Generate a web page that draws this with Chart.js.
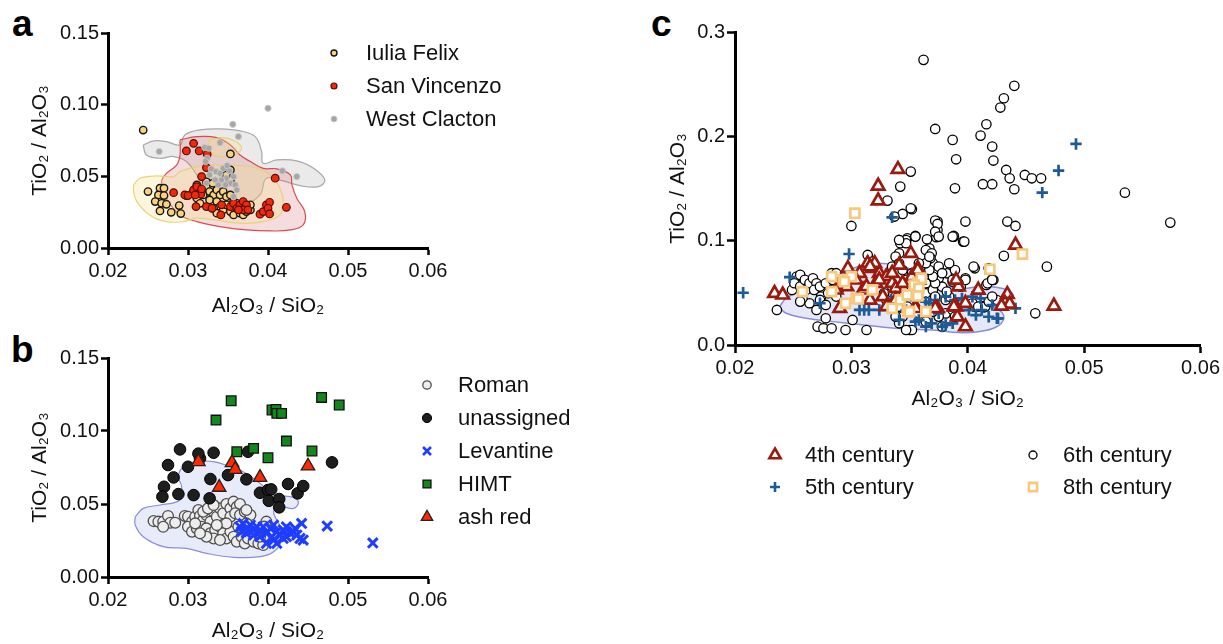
<!DOCTYPE html>
<html><head><meta charset="utf-8">
<script src="https://cdn.jsdelivr.net/npm/chart.js@4.4.1/dist/chart.umd.min.js"></script>
<style>
html,body{margin:0;padding:0;background:#fff;width:1223px;height:644px;overflow:hidden;}
canvas{position:absolute;}
.lab{position:absolute;font-family:'Liberation Sans',Arial,sans-serif;font-weight:bold;font-size:37px;line-height:37px;color:#000;}
</style></head><body>
<div class="lab" style="left:12px;top:5px">a</div>
<div class="lab" style="left:11px;top:331px">b</div>
<div class="lab" style="left:651px;top:5px">c</div>
<canvas id="ca" width="620" height="330" style="left:0;top:0"></canvas>
<canvas id="cb" width="620" height="314" style="left:0;top:330px"></canvas>
<canvas id="cc" width="603" height="644" style="left:620px;top:0"></canvas>
<script>
// ---------------- DATA ----------------
const xTicks = [0.02, 0.03, 0.04, 0.05, 0.06];
const yTicksAB = [0.00, 0.05, 0.10, 0.15];
const yTicksC = [0.0, 0.1, 0.2, 0.3];
const xTitle = 'Al₂O₃ / SiO₂';
const yTitle = 'TiO₂ / Al₂O₃';

// panel a
const namesA = ['Iulia Felix', 'San Vincenzo', 'West Clacton'];
const iuliaFelix = [[0.0244,0.0823],[0.0353,0.0656],
 [0.0250,0.0394],[0.0265,0.0417],[0.0270,0.0417],[0.0263,0.0370],[0.0270,0.0366],[0.0259,0.0324],[0.0267,0.0312],[0.0273,0.0305],[0.0265,0.0259],[0.0279,0.0249],[0.0289,0.0296],[0.0291,0.0240],
 [0.0311,0.0440],[0.0315,0.0405],[0.0319,0.0370],[0.0323,0.0420],[0.0327,0.0394],[0.0332,0.0370],[0.0336,0.0405],[0.0340,0.0370],[0.0344,0.0394],[0.0348,0.0358],[0.0353,0.0370],[0.0311,0.0347],[0.0315,0.0312],[0.0327,0.0335],[0.0336,0.0324],[0.0340,0.0289],[0.0344,0.0266],[0.0353,0.0254],[0.0357,0.0231],[0.0365,0.0243],[0.0369,0.0231],[0.0378,0.0266],[0.0378,0.0301],[0.0332,0.0277],[0.0336,0.0243],[0.0348,0.0301],[0.0361,0.0277],[0.0353,0.0475],[0.0348,0.0510],[0.0353,0.0545],[0.0323,0.0463],[0.0357,0.0324],[0.0369,0.0289],[0.0373,0.0254],[0.0361,0.0312],[0.0331,0.0452],[0.0305,0.0380],[0.0298,0.0365]];
const sanVincenzo = [[0.0307,0.0730],[0.0298,0.0677],[0.0314,0.0677],[0.0324,0.0654],[0.0323,0.0561],[0.0317,0.0498],[0.0282,0.0386],[0.0296,0.0370],[0.0300,0.0366],[0.0316,0.0375],[0.0310,0.0289],[0.0323,0.0289],[0.0330,0.0277],[0.0341,0.0231],[0.0342,0.0301],[0.0353,0.0289],[0.0357,0.0312],[0.0361,0.0277],[0.0365,0.0301],[0.0369,0.0324],[0.0373,0.0301],[0.0369,0.0266],[0.0375,0.0266],[0.0363,0.0266],[0.0390,0.0236],[0.0394,0.0254],[0.0398,0.0301],[0.0402,0.0319],[0.0400,0.0277],[0.0402,0.0238],[0.0423,0.0284],[0.0409,0.0487],[0.0307,0.0405],[0.0311,0.0428],[0.0317,0.0412],[0.0309,0.0370]];
const westClacton = [[0.0400,0.0975],[0.0356,0.0863],[0.0363,0.0777],[0.0340,0.0735],[0.0264,0.0673],[0.0321,0.0701],[0.0326,0.0696],[0.0324,0.0626],[0.0322,0.0603],[0.0329,0.0552],[0.0327,0.0510],[0.0335,0.0533],[0.0340,0.0521],[0.0344,0.0556],[0.0349,0.0575],[0.0352,0.0538],[0.0348,0.0487],[0.0342,0.0475],[0.0353,0.0452],[0.0357,0.0498],[0.0334,0.0475],[0.0323,0.0452],[0.0338,0.0440],[0.0359,0.0440],[0.0361,0.0405],[0.0357,0.0358],[0.0347,0.0440],[0.0418,0.0538],[0.0436,0.0498]];
const contourAGrey = [[0.0244,0.0719],[0.0257,0.0747],[0.0273,0.0742],[0.0290,0.0719],[0.0296,0.0789],[0.0315,0.0824],[0.0340,0.0831],[0.0365,0.0817],[0.0384,0.0777],[0.0392,0.0673],[0.0394,0.0591],[0.0411,0.0615],[0.0436,0.0608],[0.0457,0.0556],[0.0471,0.0475],[0.0463,0.0428],[0.0440,0.0435],[0.0419,0.0468],[0.0398,0.0487],[0.0390,0.0370],[0.0369,0.0301],[0.0344,0.0324],[0.0323,0.0394],[0.0311,0.0510],[0.0298,0.0603],[0.0282,0.0638],[0.0265,0.0626],[0.0248,0.0649]];
const contourARed = [[0.0290,0.0754],[0.0311,0.0777],[0.0336,0.0770],[0.0353,0.0719],[0.0365,0.0649],[0.0378,0.0603],[0.0394,0.0556],[0.0411,0.0552],[0.0428,0.0510],[0.0430,0.0440],[0.0436,0.0347],[0.0446,0.0254],[0.0444,0.0161],[0.0428,0.0126],[0.0403,0.0119],[0.0373,0.0126],[0.0340,0.0149],[0.0311,0.0184],[0.0290,0.0231],[0.0273,0.0347],[0.0267,0.0463],[0.0273,0.0521],[0.0286,0.0580],[0.0290,0.0649]];
const contourAYellow = [[0.0232,0.0440],[0.0240,0.0487],[0.0261,0.0503],[0.0282,0.0498],[0.0290,0.0533],[0.0311,0.0568],[0.0336,0.0580],[0.0365,0.0575],[0.0386,0.0556],[0.0403,0.0510],[0.0415,0.0417],[0.0419,0.0324],[0.0415,0.0231],[0.0394,0.0184],[0.0365,0.0173],[0.0332,0.0196],[0.0311,0.0208],[0.0294,0.0184],[0.0273,0.0184],[0.0252,0.0231],[0.0236,0.0324],[0.0232,0.0394]];
const contourAYellowTop = [[0.0327,0.0754],[0.0344,0.0770],[0.0360,0.0742],[0.0367,0.0696],[0.0357,0.0649],[0.0340,0.0638],[0.0327,0.0673],[0.0325,0.0719]];

// panel b
const namesB = ['Roman', 'unassigned', 'Levantine', 'HIMT', 'ash red'];
const roman = [[0.0257,0.0383],[0.0263,0.0379],[0.0269,0.0379],[0.0275,0.0418],[0.0278,0.0372],[0.0284,0.0372],[0.0269,0.0344],
 [0.0296,0.0418],[0.0300,0.0413],[0.0305,0.0379],[0.0309,0.0413],[0.0313,0.0459],[0.0315,0.0418],[0.0319,0.0390],[0.0323,0.0424],[0.0328,0.0379],[0.0332,0.0447],[0.0336,0.0413],[0.0340,0.0470],[0.0344,0.0436],[0.0348,0.0500],[0.0353,0.0470],[0.0357,0.0516],[0.0361,0.0481],[0.0365,0.0500],[0.0353,0.0413],[0.0359,0.0436],[0.0365,0.0424],[0.0371,0.0447],[0.0378,0.0424],
 [0.0300,0.0344],[0.0305,0.0310],[0.0311,0.0333],[0.0317,0.0344],[0.0323,0.0333],[0.0328,0.0299],[0.0334,0.0322],[0.0340,0.0344],[0.0344,0.0299],[0.0348,0.0264],[0.0353,0.0310],[0.0357,0.0276],[0.0361,0.0242],[0.0367,0.0276],[0.0371,0.0230],[0.0375,0.0264],[0.0382,0.0242],[0.0388,0.0230],[0.0394,0.0219],[0.0390,0.0276],[0.0380,0.0310],[0.0332,0.0264],[0.0340,0.0253],[0.0323,0.0276],[0.0315,0.0299],[0.0309,0.0367],[0.0363,0.0344],[0.0369,0.0322],[0.0373,0.0367],[0.0348,0.0367],[0.0336,0.0356],[0.0319,0.0447],[0.0325,0.0470],[0.0332,0.0493],[0.0373,0.0459],[0.0398,0.0379],[0.0395,0.0345]];
const unassigned = [[0.0290,0.0874],[0.0275,0.0767],[0.0332,0.0851],[0.0315,0.0812],[0.0300,0.0755],[0.0282,0.0682],[0.0270,0.0618],[0.0268,0.0550],[0.0288,0.0568],[0.0307,0.0561],[0.0328,0.0671],[0.0327,0.0539],[0.0350,0.0698],[0.0373,0.0669],[0.0375,0.0858],[0.0390,0.0577],[0.0400,0.0596],[0.0404,0.0600],[0.0401,0.0522],[0.0414,0.0534],[0.0414,0.0477],[0.0425,0.0637],[0.0437,0.0573],[0.0444,0.0623],[0.0480,0.0785],[0.0313,0.0845]];
const levantine = [[0.0365,0.0344],[0.0369,0.0367],[0.0373,0.0333],[0.0378,0.0356],[0.0382,0.0322],[0.0386,0.0344],[0.0390,0.0310],[0.0394,0.0344],[0.0398,0.0299],[0.0403,0.0333],[0.0407,0.0356],[0.0411,0.0310],[0.0415,0.0287],[0.0419,0.0322],[0.0423,0.0276],[0.0428,0.0299],[0.0432,0.0310],[0.0436,0.0287],[0.0440,0.0264],[0.0444,0.0253],[0.0442,0.0367],[0.0407,0.0253],[0.0398,0.0230],[0.0411,0.0230],[0.0390,0.0276],[0.0382,0.0287],[0.0373,0.0299],[0.0367,0.0310],[0.0423,0.0344],[0.0434,0.0333],[0.0419,0.0264],[0.0405,0.0276],[0.0474,0.0349],[0.0531,0.0233]];
const himt = [[0.0354,0.1207],[0.0335,0.1075],[0.0405,0.1144],[0.0410,0.1148],[0.0411,0.1121],[0.0417,0.1121],[0.0467,0.1230],[0.0489,0.1178],[0.0423,0.0931],[0.0455,0.0863],[0.0361,0.0858],[0.0382,0.0881],[0.0400,0.0817]];
const ashRed = [[0.0313,0.0790],[0.0355,0.0783],[0.0359,0.0737],[0.0339,0.0614],[0.0390,0.0682],[0.0450,0.0760]];
const contourB = [[0.0234,0.0413],[0.0244,0.0470],[0.0265,0.0493],[0.0290,0.0527],[0.0292,0.0619],[0.0288,0.0687],[0.0294,0.0755],[0.0311,0.0790],[0.0332,0.0790],[0.0353,0.0755],[0.0369,0.0721],[0.0390,0.0642],[0.0407,0.0562],[0.0428,0.0550],[0.0438,0.0516],[0.0432,0.0470],[0.0415,0.0482],[0.0407,0.0447],[0.0415,0.0345],[0.0417,0.0253],[0.0407,0.0173],[0.0390,0.0139],[0.0357,0.0135],[0.0323,0.0162],[0.0298,0.0196],[0.0269,0.0208],[0.0244,0.0276],[0.0234,0.0356]];

// panel c
const namesC = ['4th century', '5th century', '6th century', '8th century'];
const c4th = [[0.0340,0.1684],[0.0323,0.1524],[0.0323,0.1383],[0.0351,0.0879],[0.0441,0.0959],[0.0474,0.0374],[0.0434,0.0486],[0.0432,0.0400],[0.0436,0.0393],[0.0409,0.0527],[0.0398,0.0176],[0.0391,0.0271],[0.0390,0.0367],[0.0392,0.0559],[0.0390,0.0623],[0.0398,0.0400],[0.0374,0.0352],
 [0.0234,0.0496],[0.0241,0.0480],[0.0287,0.0528],[0.0290,0.0352],[0.0297,0.0735],[0.0307,0.0688],[0.0310,0.0528],[0.0314,0.0783],[0.0318,0.0735],[0.0320,0.0783],[0.0324,0.0688],[0.0330,0.0656],[0.0335,0.0592],[0.0338,0.0544],[0.0341,0.0767],[0.0357,0.0735],[0.0352,0.0656],[0.0358,0.0624],[0.0327,0.0464],[0.0316,0.0432],[0.0330,0.0368],[0.0355,0.0368],[0.0296,0.0560],[0.0304,0.0624],[0.0313,0.0560],[0.0321,0.0592],[0.0324,0.0624],[0.0335,0.0688],[0.0344,0.0592],[0.0338,0.0432],[0.0357,0.0719],[0.0429,0.0374],[0.0388,0.0367],[0.0372,0.0351],[0.0355,0.0351],[0.0316,0.0751]];
const c5th = [[0.0493,0.1927],[0.0478,0.1672],[0.0464,0.1460],[0.0207,0.0501],[0.0298,0.0872],[0.0335,0.1224],
 [0.0355,0.0431],[0.0364,0.0415],[0.0372,0.0431],[0.0381,0.0463],[0.0389,0.0431],[0.0395,0.0447],[0.0401,0.0335],[0.0407,0.0287],[0.0412,0.0335],[0.0418,0.0271],[0.0426,0.0255],[0.0421,0.0383],[0.0441,0.0351],[0.0358,0.0239],[0.0369,0.0208],[0.0378,0.0176],[0.0387,0.0208],[0.0347,0.0335],[0.0404,0.0463],
 [0.0247,0.0650],[0.0307,0.0336],[0.0315,0.0336],[0.0324,0.0336],[0.0334,0.0432],[0.0341,0.0240],[0.0355,0.0224],[0.0367,0.0400],[0.0375,0.0304],[0.0381,0.0192],[0.0364,0.0176],[0.0389,0.0336],[0.0273,0.0400],[0.0411,0.0447],[0.0425,0.0256],[0.0311,0.0336]];
const c6th = [[0.0362,0.2733],[0.0440,0.2484],[0.0431,0.2365],[0.0428,0.2276],[0.0416,0.2116],[0.0372,0.2071],[0.0411,0.2007],[0.0387,0.1966],[0.0421,0.1902],[0.0390,0.1780],[0.0422,0.1768],[0.0433,0.1678],[0.0449,0.1630],[0.0455,0.1598],[0.0463,0.1598],[0.0436,0.1598],[0.0413,0.1541],[0.0421,0.1541],[0.0389,0.1502],[0.0440,0.1493],[0.0535,0.1460],[0.0574,0.1173],[0.0374,0.1183],[0.0398,0.1183],[0.0434,0.1183],[0.0441,0.1141],[0.0388,0.1039],[0.0396,0.0991],[0.0431,0.0854],[0.0468,0.0751],[0.0458,0.0304],[0.0406,0.0735],[0.0421,0.0630],[0.0416,0.0576],[0.0412,0.0374],[0.0406,0.0368],[0.0374,0.1103],
 [0.0351,0.1662],[0.0342,0.1518],[0.0331,0.1384],[0.0344,0.1256],[0.0352,0.1301],[0.0337,0.1231],[0.0300,0.1141],[0.0348,0.1023],[0.0355,0.1045],[0.0342,0.0975],[0.0372,0.1192],[0.0373,0.1033],[0.0367,0.0927],
 [0.0351,0.1310],[0.0374,0.1160],[0.0372,0.1086],[0.0388,0.1045],[0.0365,0.1013],[0.0347,0.1006],[0.0364,0.0910],[0.0369,0.0879],[0.0370,0.0783],[0.0362,0.0767],[0.0368,0.0831],[0.0422,0.0623],[0.0417,0.0591],[0.0382,0.0687],[0.0375,0.0639],[0.0387,0.0607],[0.0398,0.0639],[0.0394,0.0559],[0.0378,0.0559],[0.0414,0.0361],[0.0425,0.0431],[0.0381,0.0303],[0.0358,0.0303],[0.0350,0.0144],
 [0.0236,0.0336],[0.0249,0.0528],[0.0253,0.0656],[0.0256,0.0672],[0.0251,0.0592],[0.0256,0.0560],[0.0260,0.0624],[0.0261,0.0528],[0.0264,0.0592],[0.0267,0.0640],[0.0270,0.0592],[0.0268,0.0528],[0.0273,0.0560],[0.0274,0.0464],[0.0278,0.0592],[0.0283,0.0688],[0.0284,0.0624],[0.0280,0.0496],[0.0284,0.0528],[0.0287,0.0464],[0.0290,0.0544],[0.0273,0.0432],[0.0278,0.0384],[0.0270,0.0336],[0.0264,0.0400],[0.0258,0.0448],[0.0256,0.0416],[0.0278,0.0256],[0.0271,0.0176],[0.0276,0.0160],[0.0283,0.0160],[0.0295,0.0144],[0.0301,0.0240],[0.0313,0.0144],[0.0287,0.0688],[0.0295,0.0624],[0.0298,0.0656],[0.0304,0.0656],[0.0314,0.0863],[0.0318,0.0799],
 [0.0328,0.0496],[0.0330,0.0432],[0.0333,0.0368],[0.0338,0.0464],[0.0341,0.0368],[0.0344,0.0272],[0.0348,0.0368],[0.0352,0.0528],[0.0355,0.0464],[0.0358,0.0560],[0.0364,0.0496],[0.0370,0.0528],[0.0372,0.0592],[0.0370,0.0656],[0.0367,0.0719],[0.0364,0.0783],[0.0367,0.0847],[0.0375,0.0751],[0.0378,0.0688],[0.0372,0.0464],[0.0381,0.0432],[0.0384,0.0464],[0.0387,0.0336],[0.0389,0.0272],[0.0375,0.0272],[0.0370,0.0320],[0.0364,0.0224],[0.0352,0.0144],[0.0347,0.0144],[0.0341,0.0208],[0.0338,0.0272],[0.0341,0.0879],[0.0347,0.0975],[0.0355,0.1039],[0.0341,0.1007],[0.0338,0.0847],[0.0335,0.0751],[0.0341,0.0783],[0.0344,0.0719],[0.0347,0.0624],[0.0352,0.0688],[0.0358,0.0783],[0.0335,0.0560],[0.0338,0.0624],[0.0364,0.0592],[0.0375,0.1039],[0.0382,0.0512],[0.0387,0.0624],[0.0398,0.0624],[0.0389,0.0719],[0.0384,0.0783],[0.0392,0.0592],[0.0387,0.1039],[0.0397,0.0991],[0.0404,0.0400],[0.0409,0.0368],[0.0415,0.0368],[0.0418,0.0416],[0.0421,0.0624],[0.0421,0.0464],[0.0418,0.0735],[0.0405,0.0751],[0.0378,0.0176]];
const c8th = [[0.0303,0.1263],[0.0447,0.0872],[0.0419,0.0726],[0.0258,0.0512],[0.0283,0.0656],[0.0283,0.0512],[0.0293,0.0624],[0.0295,0.0400],[0.0300,0.0656],[0.0304,0.0448],[0.0318,0.0528],[0.0335,0.0352],[0.0342,0.0432],[0.0348,0.0320],[0.0348,0.0480],[0.0357,0.0480],[0.0357,0.0592],[0.0360,0.0640],[0.0364,0.0320],[0.0354,0.0575],[0.0358,0.0543],[0.0357,0.0470],[0.0350,0.0319],[0.0294,0.0608],[0.0306,0.0441]];
const contourC = [[0.0238,0.0362],[0.0244,0.0448],[0.0256,0.0512],[0.0270,0.0566],[0.0290,0.0672],[0.0307,0.0758],[0.0324,0.0783],[0.0341,0.0758],[0.0358,0.0703],[0.0372,0.0624],[0.0384,0.0560],[0.0395,0.0553],[0.0392,0.0534],[0.0415,0.0560],[0.0434,0.0528],[0.0439,0.0464],[0.0428,0.0416],[0.0417,0.0384],[0.0427,0.0336],[0.0431,0.0256],[0.0424,0.0170],[0.0409,0.0128],[0.0392,0.0119],[0.0375,0.0138],[0.0370,0.0144],[0.0341,0.0157],[0.0313,0.0189],[0.0284,0.0224],[0.0261,0.0256],[0.0244,0.0304]];

// ---------------- RENDER ----------------
const FONT = "'Liberation Sans', Arial, sans-serif";
Chart.defaults.font.family = FONT;
Chart.defaults.color = '#111';

function pts(arr){ return arr.map(p => ({x:p[0], y:p[1]})); }
function closed(arr){ return pts(arr.concat([arr[0]])); }

function drawMarker(ctx, m, x, y){
  const r = m.r;
  ctx.save();
  ctx.lineWidth = m.lw; ctx.strokeStyle = m.stroke; ctx.fillStyle = m.fill || 'transparent';
  ctx.beginPath();
  if (m.style === 'circle') ctx.arc(x, y, r, 0, Math.PI*2);
  else if (m.style === 'triangle') {
    for (let i = 0; i < 3; i++) { const a = i*2*Math.PI/3; const px = x + Math.sin(a)*r, py = y - Math.cos(a)*r; i ? ctx.lineTo(px,py) : ctx.moveTo(px,py); }
    ctx.closePath();
  } else if (m.style === 'rect') { const s = r*Math.SQRT1_2; ctx.rect(x-s, y-s, 2*s, 2*s); }
  else if (m.style === 'cross') { ctx.moveTo(x, y-r); ctx.lineTo(x, y+r); ctx.moveTo(x-r, y); ctx.lineTo(x+r, y); }
  else if (m.style === 'crossRot') { const d = r*Math.SQRT1_2; ctx.moveTo(x-d,y-d); ctx.lineTo(x+d,y+d); ctx.moveTo(x-d,y+d); ctx.lineTo(x+d,y-d); }
  if (m.fill && m.style !== 'cross' && m.style !== 'crossRot') ctx.fill();
  if (m.lw > 0) ctx.stroke();
  ctx.restore();
}

function legendPlugin(items){
  return { id: 'customLegend', afterDraw(chart){
    const ctx = chart.ctx;
    ctx.save();
    ctx.font = '22px ' + FONT; ctx.fillStyle = '#111'; ctx.textBaseline = 'middle'; ctx.textAlign = 'left';
    items.forEach(it => { drawMarker(ctx, it.m, it.mx, it.y); ctx.fillText(it.label, it.tx, it.y + 1); });
    ctx.restore();
  }};
}

function scales(o){
  const grid = { drawOnChartArea:false, drawTicks:true, tickLength:o.tickLen, tickWidth:2.5, color:'#000' };
  const border = { display:true, width:3, color:'#000' };
  return {
    x: { type:'linear', min:xTicks[0], max:xTicks[xTicks.length-1],
      afterBuildTicks: s => { s.ticks = xTicks.map(v => ({value:v})); },
      ticks:{ callback:v => v.toFixed(2), font:{size:20}, color:'#111', padding:o.xPad, maxRotation:0, autoSkip:false },
      grid, border,
      title:{ display:true, text:xTitle, font:{size:21}, color:'#111', padding:{top:0, bottom:o.xTitlePad} },
      afterFit: s => { s.height = o.xHeight; } },
    y: { type:'linear', min:o.yT[0], max:o.yT[o.yT.length-1],
      afterBuildTicks: s => { s.ticks = o.yT.map(v => ({value:v})); },
      ticks:{ callback:v => v.toFixed(o.yDec), font:{size:20}, color:'#111', padding:o.yPad, autoSkip:false },
      grid, border,
      title:{ display:true, text:yTitle, font:{size:21}, color:'#111', padding:{top:o.yTitlePad, bottom:0} },
      afterFit: s => { s.width = o.yWidth; } }
  };
}

function pointSet(label, data, st, order){
  return { type:'scatter', label, data:pts(data), order, pointStyle:st.style, pointRadius:st.r,
    pointBackgroundColor:st.fill || 'rgba(0,0,0,0)', pointBorderColor:st.stroke, pointBorderWidth:st.lw,
    backgroundColor:st.fill || 'rgba(0,0,0,0)', borderColor:st.stroke, showLine:false };
}
function contourSet(data, fill, stroke, lw, order){
  return { type:'line', data:closed(data), order, fill:'shape', tension:0.4, pointRadius:0,
    backgroundColor:fill, borderColor:stroke, borderWidth:lw };
}
function baseOptions(pad, o){
  return { responsive:false, animation:false, events:[], layout:{ padding:pad },
    plugins:{ legend:{display:false}, tooltip:{enabled:false} }, scales:scales(o) };
}

// ---- panel a
const stA = [
  { style:'circle', r:3.7, fill:'#FAD27F', stroke:'#151515', lw:1.4 },
  { style:'circle', r:3.8, fill:'#EC2A0E', stroke:'#5C0A00', lw:1.2 },
  { style:'circle', r:3.1, fill:'#A6A6A6', stroke:'rgba(200,200,200,0.9)', lw:1 }
];
new Chart(document.getElementById('ca'), {
  type:'scatter',
  data:{ datasets:[
    pointSet(namesA[2], westClacton, stA[2], 0),
    pointSet(namesA[1], sanVincenzo, stA[1], 1),
    pointSet(namesA[0], iuliaFelix, stA[0], 2),
    contourSet(contourAYellowTop, 'rgba(246,226,140,0.30)', 'rgba(232,208,110,0.9)', 1.2, 3),
    contourSet(contourAYellow, 'rgba(246,226,140,0.30)', 'rgba(232,208,110,0.9)', 1.2, 4),
    contourSet(contourARed, 'rgba(215,110,120,0.24)', 'rgba(214,70,70,0.95)', 1.2, 5),
    contourSet(contourAGrey, 'rgba(195,195,195,0.35)', 'rgba(160,160,160,0.9)', 1.2, 6)
  ]},
  options: baseOptions({left:0, top:33, right:192, bottom:0},
    { tickLen:7, xPad:4, yPad:2, xHeight:82, yWidth:108, xTitlePad:11, yTitlePad:28, yT:yTicksAB, yDec:2 }),
  plugins:[ legendPlugin(namesA.map((n,i) => ({ label:n, m:Object.assign({}, stA[i], {r:3}), mx:334, tx:366, y:53 + i*33 }))) ]
});

// ---- panel b
const stB = [
  { style:'circle', r:5.4, fill:'#EDEDED', stroke:'#505050', lw:1.3 },
  { style:'circle', r:5.8, fill:'#1E1E1E', stroke:'#000', lw:1 },
  { style:'crossRot', r:6.8, fill:null, stroke:'#1E3DFF', lw:3 },
  { style:'rect', r:6.8, fill:'#13871B', stroke:'#111', lw:1.3 },
  { style:'triangle', r:7.8, fill:'#FF2A00', stroke:'#222', lw:1.3 }
];
const stBLeg = [
  { style:'circle', r:4.2, fill:'#EDEDED', stroke:'#505050', lw:1.3 },
  { style:'circle', r:4.6, fill:'#1E1E1E', stroke:'#000', lw:1 },
  { style:'crossRot', r:5.6, fill:null, stroke:'#1E3DFF', lw:2.6 },
  { style:'rect', r:5.6, fill:'#13871B', stroke:'#111', lw:1.3 },
  { style:'triangle', r:6.6, fill:'#FF2A00', stroke:'#222', lw:1.3 }
];
new Chart(document.getElementById('cb'), {
  type:'scatter',
  data:{ datasets:[
    pointSet(namesB[4], ashRed, stB[4], 0),
    pointSet(namesB[3], himt, stB[3], 1),
    pointSet(namesB[1], unassigned, stB[1], 2),
    pointSet(namesB[2], levantine, stB[2], 3),
    pointSet(namesB[0], roman, stB[0], 4),
    contourSet(contourB, 'rgba(205,210,245,0.45)', 'rgba(125,130,215,0.9)', 1.2, 5)
  ]},
  options: baseOptions({left:0, top:28, right:192, bottom:0},
    { tickLen:7, xPad:4, yPad:2, xHeight:67, yWidth:108, xTitlePad:0, yTitlePad:28, yT:yTicksAB, yDec:2 }),
  plugins:[ legendPlugin(namesB.map((n,i) => ({ label:n, m:stBLeg[i], mx:427, tx:458, y:55 + i*33 }))) ]
});

// ---- panel c
const stC = [
  { style:'triangle', r:7.2, fill:'#FFFFFF', stroke:'#9A1A0E', lw:2.7 },
  { style:'cross', r:5.7, fill:null, stroke:'#1C5B98', lw:2.7 },
  { style:'circle', r:4.7, fill:'#FFFFFF', stroke:'#000', lw:1.3 },
  { style:'rect', r:6.4, fill:'#FFFFFF', stroke:'#F8C97C', lw:2.7 }
];
const stCLeg = [
  { style:'triangle', r:6.5, fill:'#FFFFFF', stroke:'#9A1A0E', lw:2.6 },
  { style:'cross', r:5, fill:null, stroke:'#1C5B98', lw:2.6 },
  { style:'circle', r:4, fill:'#FFFFFF', stroke:'#000', lw:1.3 },
  { style:'rect', r:5.8, fill:'#FFFFFF', stroke:'#F8C97C', lw:2.6 }
];
const legPosC = [ {mx:155, tx:185, y:455}, {mx:155, tx:185, y:487}, {mx:413, tx:443, y:455}, {mx:413, tx:443, y:487} ];
new Chart(document.getElementById('cc'), {
  type:'scatter',
  data:{ datasets:[
    pointSet(namesC[3], c8th, stC[3], 0),
    pointSet(namesC[0], c4th, stC[0], 1),
    pointSet(namesC[1], c5th, stC[1], 2),
    pointSet(namesC[2], c6th, stC[2], 3),
    contourSet(contourC, 'rgba(205,210,245,0.5)', 'rgba(125,130,215,0.9)', 1.5, 4)
  ]},
  options: baseOptions({left:0, top:32, right:20, bottom:219},
    { tickLen:8, xPad:3, yPad:2, xHeight:80, yWidth:115, xTitlePad:13, yTitlePad:46, yT:yTicksC, yDec:1 }),
  plugins:[ legendPlugin(namesC.map((n,i) => Object.assign({ label:n, m:stCLeg[i] }, legPosC[i]))) ]
});
</script>
</body></html>
